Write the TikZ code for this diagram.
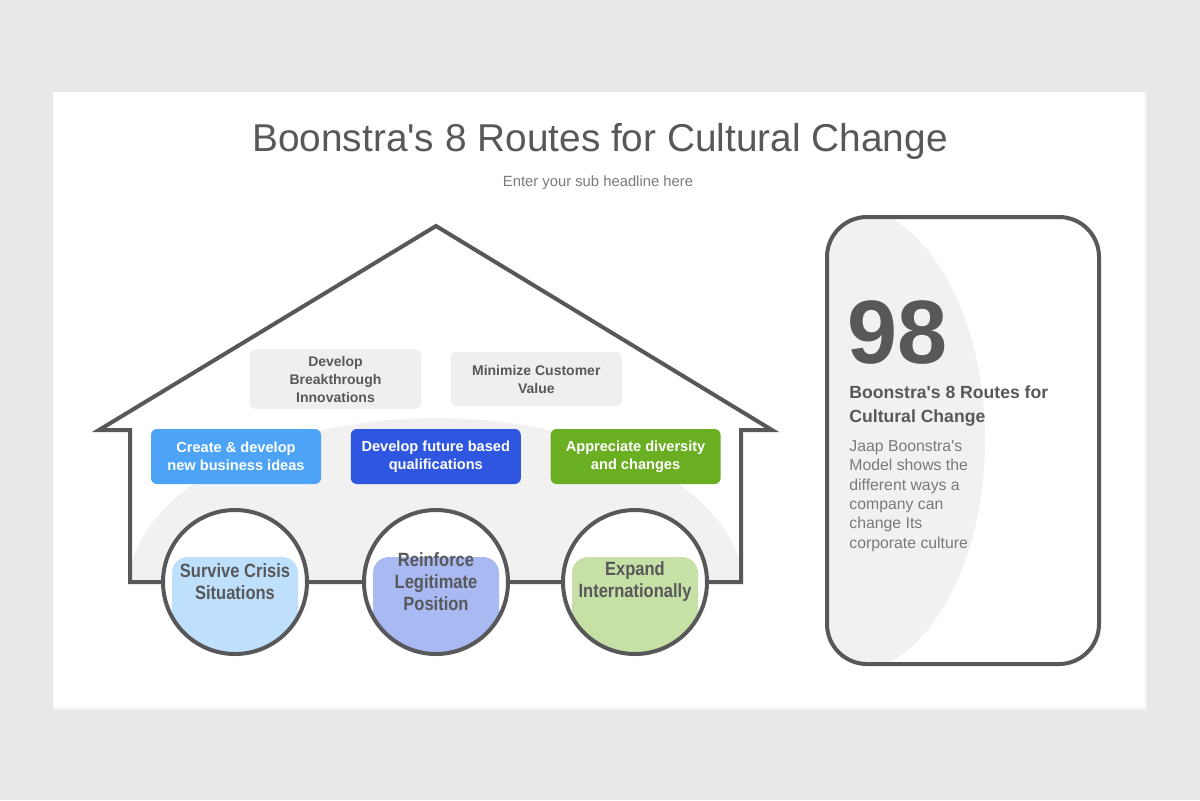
\documentclass[tikz,border=0pt]{standalone}
\usepackage{fontspec}
\setmainfont{Liberation Sans}
\newfontfamily\narrowfont[FakeStretch=0.86]{Liberation Sans}
\usepackage{tikz}
\usetikzlibrary{positioning}

\definecolor{pagegray}{HTML}{E9E8E9}
\definecolor{inkgray}{HTML}{58585A}
\definecolor{softgray}{HTML}{F1F1F1}
\definecolor{ideagray}{HTML}{EFEFEF}
\definecolor{bodygray}{HTML}{7A7A7A}
\definecolor{routeblue}{HTML}{4DA3F5}
\definecolor{routenavy}{HTML}{2E56E0}
\definecolor{routegreen}{HTML}{6AAE22}
\definecolor{wheelblue}{HTML}{BFE0FC}
\definecolor{wheelnavy}{HTML}{A9B9F1}
\definecolor{wheelgreen}{HTML}{C6E0A6}

\tikzstyle{outline} = [draw=inkgray, line width=2pt, line join=miter]
\tikzstyle{idea} = [rectangle, rounded corners=3pt, fill=ideagray, text=inkgray,
    minimum width=85.5pt, minimum height=27pt, align=center,
    font=\bfseries\fontsize{7}{9}\selectfont]
\tikzstyle{route} = [rectangle, rounded corners=3pt, text=white,
    minimum width=85pt, minimum height=27.5pt, align=center,
    font=\bfseries\fontsize{7.3}{9}\selectfont]
\tikzstyle{wheel} = [circle, draw=inkgray, line width=2pt, minimum size=72pt,
    text=inkgray, align=center, font=\narrowfont\bfseries\fontsize{9.6}{11}\selectfont]
\tikzstyle{card} = [draw=inkgray, line width=2pt, rounded corners=20pt]

\begin{document}
\begin{tikzpicture}[x=0.5pt, y=-0.5pt]
    % We start with the slide and its frame
    \fill[pagegray] (0,0) rectangle (1200,800);
    \fill[black!5] (54,94) rectangle (1147,710);
    \fill[white] (53,92) rectangle (1145,708);
    \node[text=inkgray, font=\fontsize{19.4}{23}\selectfont] (title) at (600,141)
        {Boonstra\textquotesingle s 8 Routes for Cultural Change};
    \node[text=bodygray, font=\fontsize{7.4}{9}\selectfont] (subtitle) at (598,183)
        {Enter your sub headline here};

    % The soft half ellipse behind the house
    \begin{scope}
        \clip (100,300) rectangle (780,582);
        \fill[softgray] (436,590) ellipse (154pt and 86pt);
    \end{scope}

    % We draw the house
    \draw[outline] (130,582) -- (130,430) -- (99,430) -- (436,226) -- (772,430)
        -- (741,430) -- (741,582) -- cycle;

    % The grey ideas under the roof
    \node[idea] (breakthrough) at (335.5,379) {Develop\\Breakthrough\\Innovations};
    \node[idea, right=14.5pt of breakthrough] (customer) {Minimize Customer\\Value};

    % The coloured routes
    \node[route, fill=routeblue] (business) at (236,456.5) {Create \& develop\\new business ideas};
    \node[route, fill=routenavy, right=14.5pt of business] (qualify) {Develop future based\\qualifications};
    \node[route, fill=routegreen, right=14.5pt of qualify] (diversity) {Appreciate diversity\\and changes};

    % The three wheels
    \begin{scope}
        \clip (235,582) circle (36pt);
        \fill[white] (150,500) rectangle (320,670);
        \fill[wheelblue, rounded corners=8pt] (172,557) rectangle (298,690);
    \end{scope}
    \node[wheel] (crisis) at (235,582) {Survive Crisis\\Situations};

    \begin{scope}
        \clip (436,582) circle (36pt);
        \fill[white] (350,500) rectangle (520,670);
        \fill[wheelnavy, rounded corners=8pt] (373,557) rectangle (499,690);
    \end{scope}
    \node[wheel] (legitimate) at (436,582) {Reinforce\\Legitimate\\Position};

    \begin{scope}
        \clip (635,582) circle (36pt);
        \fill[white] (550,500) rectangle (720,670);
        \fill[wheelgreen, rounded corners=8pt] (572,557) rectangle (698,690);
    \end{scope}
    \node[wheel] (expand) at (635,582) {Expand\\Internationally};

    % The card on the right
    \begin{scope}
        \clip[rounded corners=20pt] (827,217) rectangle (1099,664);
        \fill[softgray] (845,440) ellipse (70pt and 117.5pt);
    \end{scope}
    \draw[card] (827,217) rectangle (1099,664);
    \node[anchor=base west, inner sep=0pt, text=inkgray,
        font=\bfseries\fontsize{45}{45}\selectfont] (number) at (847,363) {98};
    \node[anchor=north west, inner sep=0pt, text=inkgray, align=left,
        font=\bfseries\fontsize{8.8}{12}\selectfont] (cardtitle) at (849,385)
        {Boonstra\textquotesingle s 8 Routes for\\Cultural Change};
    \node[anchor=north west, inner sep=0pt, text=bodygray, align=left,
        font=\fontsize{7.9}{9.7}\selectfont] (cardtext) at (849,440)
        {Jaap Boonstra\textquotesingle s\\Model shows the\\different ways a\\company can\\change Its\\corporate culture};
\end{tikzpicture}
\end{document}
